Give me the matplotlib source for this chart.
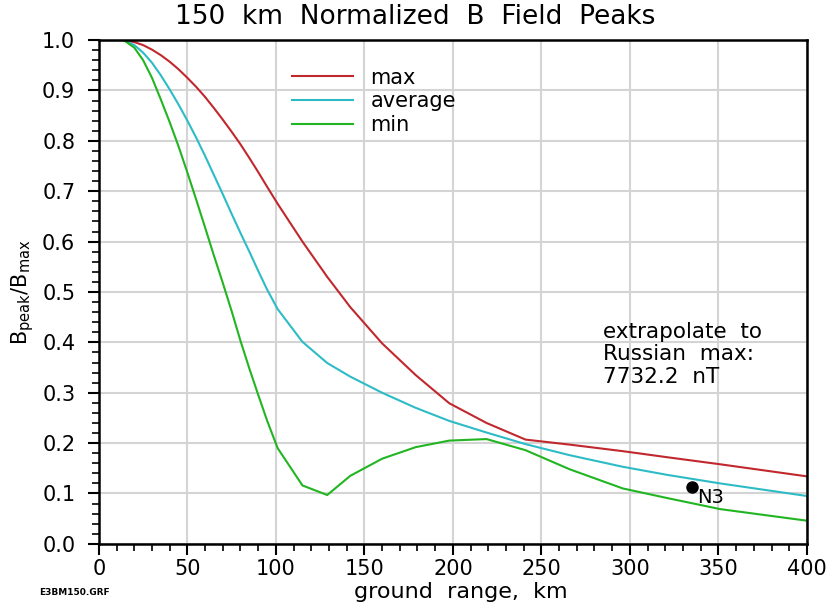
import numpy as np
import matplotlib
matplotlib.use('Agg')
import matplotlib.pyplot as plt
from matplotlib.ticker import MultipleLocator

# ground range, km
rng = [0, 14, 20, 25, 30, 35, 40, 45, 50, 55, 60, 65, 70, 75, 80, 85, 90, 95,
       101, 115, 129, 142, 160, 179, 198, 219, 241, 266, 296, 321, 351, 400]

b_max = [1.0, 1.0, 0.996, 0.99, 0.981, 0.97, 0.957, 0.942, 0.925, 0.907, 0.887, 0.865,
         0.842, 0.818, 0.793, 0.766, 0.738, 0.709, 0.675, 0.6, 0.53, 0.47, 0.398,
         0.335, 0.279, 0.240, 0.207, 0.197, 0.184, 0.172, 0.158, 0.134]
b_avg = [1.0, 1.0, 0.99, 0.975, 0.955, 0.93, 0.902, 0.872, 0.84, 0.806, 0.77, 0.732,
         0.694, 0.655, 0.617, 0.58, 0.542, 0.505, 0.466, 0.401, 0.359, 0.332, 0.300,
         0.270, 0.244, 0.221, 0.198, 0.176, 0.153, 0.137, 0.120, 0.095]
b_min = [1.0, 1.0, 0.985, 0.96, 0.925, 0.882, 0.837, 0.789, 0.737, 0.683, 0.628, 0.572,
         0.518, 0.462, 0.403, 0.348, 0.296, 0.245, 0.19, 0.116, 0.097, 0.135, 0.169,
         0.192, 0.205, 0.208, 0.186, 0.148, 0.11, 0.091, 0.069, 0.046]

n3_x, n3_y = 335, 0.112

fig = plt.figure(figsize=(8.31, 6.07), dpi=100)
ax = fig.add_axes([0.119, 0.104, 0.852, 0.830])

ax.plot(rng, b_max, color='#c0282d', lw=1.5, label='max')
ax.plot(rng, b_avg, color='#2dbcc6', lw=1.5, label='average')
ax.plot(rng, b_min, color='#22b522', lw=1.5, label='min')
ax.plot([n3_x], [n3_y], 'o', color='black', ms=8, zorder=5)
ax.text(n3_x + 3, n3_y - 0.002, 'N3', fontsize=14, va='top', ha='left')

ax.set_xlim(0, 400)
ax.set_ylim(0, 1.0)
ax.xaxis.set_major_locator(MultipleLocator(50))
ax.xaxis.set_minor_locator(MultipleLocator(10))
ax.yaxis.set_major_locator(MultipleLocator(0.1))
ax.yaxis.set_minor_locator(MultipleLocator(0.02))
ax.yaxis.set_major_formatter(matplotlib.ticker.FormatStrFormatter('%.1f'))
ax.tick_params(which='major', direction='out', length=8, width=1.5, labelsize=15)
ax.tick_params(axis='y', which='major', pad=9)
ax.tick_params(axis='x', which='major', pad=3)
ax.tick_params(which='minor', direction='out', length=5, width=1.2)
ax.tick_params(top=False, right=False, which='both')
ax.grid(True, which='major', color='#d4d4d4', lw=1.5)
ax.set_axisbelow(True)
for s in ax.spines.values():
    s.set_linewidth(1.8)

# title centred on the figure, not the axes
fig.text(0.5, 1 - 17 / 607, '150  km  Normalized  B  Field  Peaks', fontsize=19,
         ha='center', va='center')
ax.set_xlabel('ground  range,  km', fontsize=16)
ax.xaxis.set_label_coords(0.511, -0.076)
ax.set_ylabel(r'B$_{\mathrm{peak}}$/B$_{\mathrm{max}}$', fontsize=15, labelpad=4)

ax.legend(loc='upper left', bbox_to_anchor=(0.273, 0.945), frameon=False, fontsize=15,
          handlelength=2.9, handletextpad=0.85, labelspacing=0.17,
          borderpad=0, borderaxespad=0)

ax.text(0.712, 0.44, 'extrapolate  to\nRussian  max:\n7732.2  nT', transform=ax.transAxes,
        fontsize=15.5, va='top', ha='left', linespacing=1.14)

fig.text(0.047, 0.02, 'E3BM150.GRF', fontsize=6.5, fontweight='bold')

plt.savefig('out.png', dpi=100)
